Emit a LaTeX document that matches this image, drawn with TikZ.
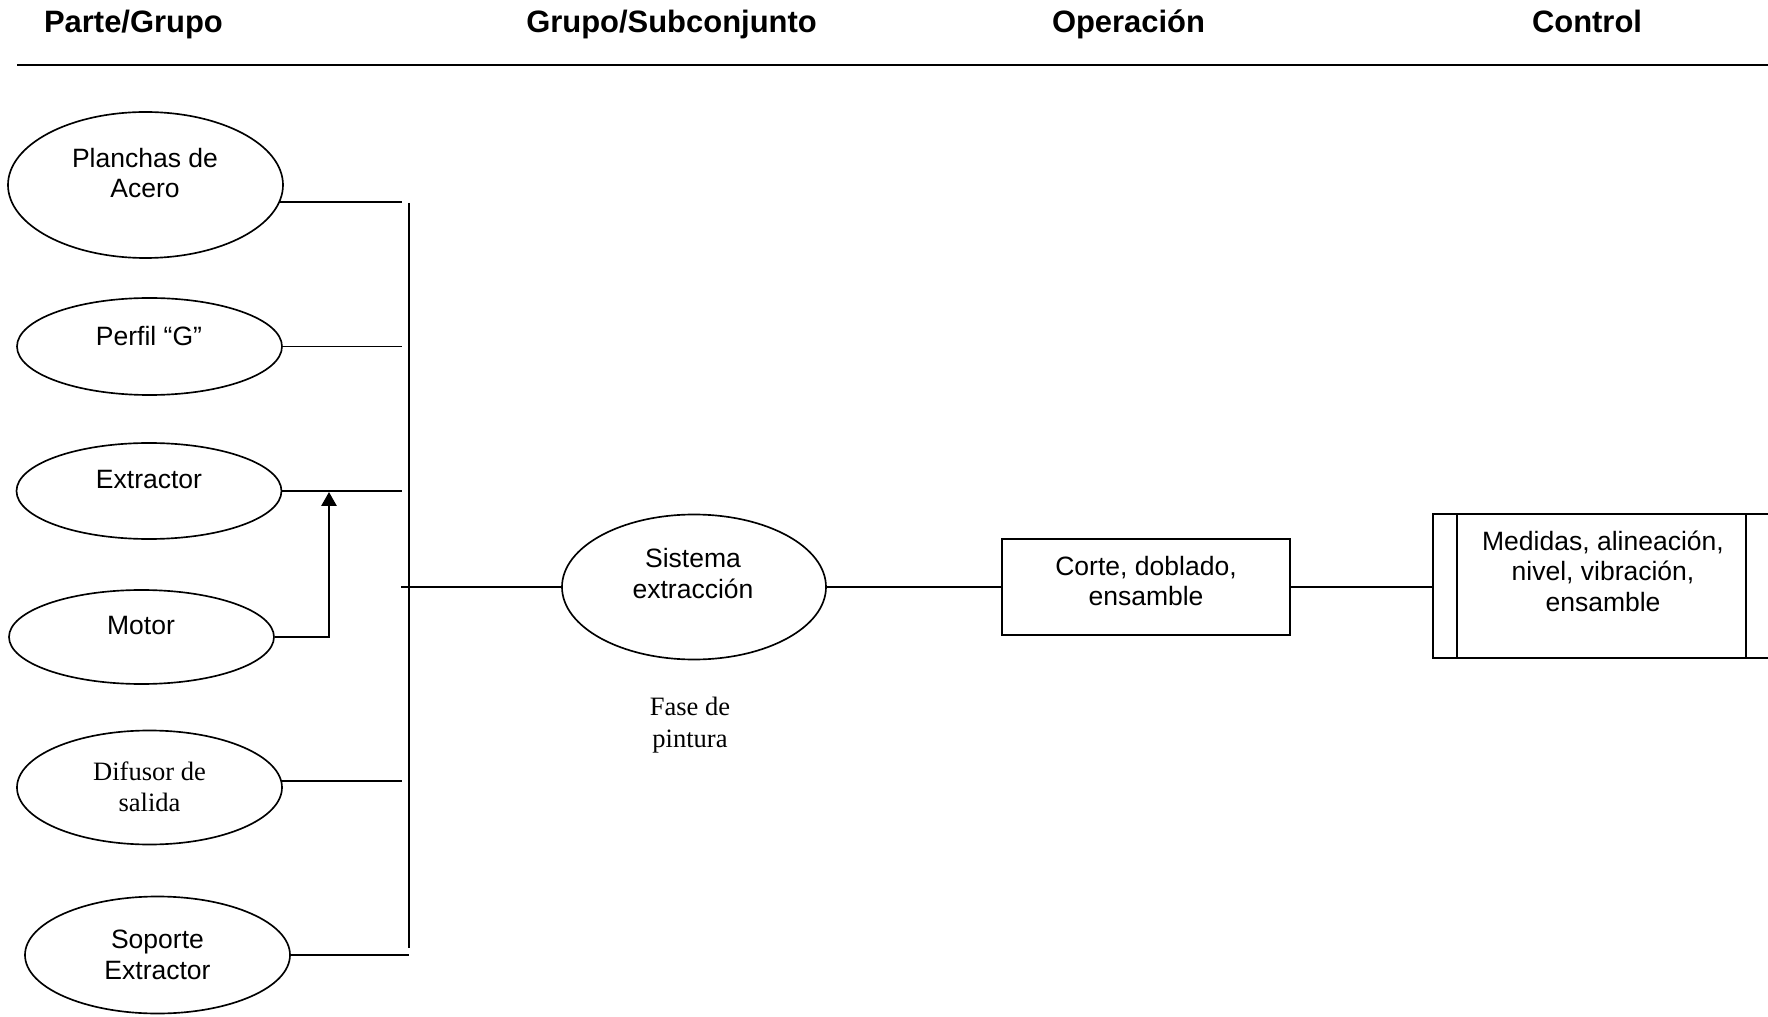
\documentclass[tikz,border=0pt]{standalone}
\usepackage{fontspec}
\setmainfont{Liberation Sans}
\newfontfamily\timesfont{Liberation Serif}
\usetikzlibrary{shapes.geometric,arrows.meta}
% one drawing unit in points
\newcommand\pxu{0.4525pt}
\begin{document}
\begin{tikzpicture}[x=0.4525pt,y=-0.4525pt,
  part/.style={ellipse,draw,line width=0.75pt,inner sep=0pt},
  lbl/.style={align=center,inner sep=0pt,font=\fontsize{12}{13.8}\selectfont},
  serif/.style={align=center,inner sep=0pt,font=\timesfont\fontsize{12}{14.2}\selectfont},
  head/.style={anchor=base,inner sep=0pt,font=\bfseries\fontsize{14}{16}\selectfont},
  wire/.style={line width=0.9pt},
  opbox/.style={rectangle,draw,line width=0.9pt,inner sep=0pt},
]
\useasboundingbox (0,0) rectangle (1768,1017);

% column headings and rule
\node[head] (h1) at (133.5,33) {Parte/Grupo};
\node[head] (h2) at (671.5,33) {Grupo/Subconjunto};
\node[head] (h3) at (1128.5,33) {Operación};
\node[head] (h4) at (1587,33) {Control};
\coordinate (rl) at (17,65);
\coordinate (rr) at (1768,65);
\draw[line width=1.2pt] (rl) -- (rr);

% parts
\node[part,minimum width=275*\pxu,minimum height=146*\pxu] (pa) at (145.5,185) {};
\node[lbl] (pa-t) at (145,173) {Planchas de\\Acero};
\node[part,minimum width=265*\pxu,minimum height=97*\pxu] (pg) at (149.5,346.5) {};
\node[lbl] (pg-t) at (149,336) {Perfil “G”};
\node[part,minimum width=265*\pxu,minimum height=96*\pxu] (ex) at (149,491) {};
\node[lbl] (ex-t) at (149,480) {Extractor};
\node[part,minimum width=265*\pxu,minimum height=94*\pxu] (mo) at (141.5,637) {};
\node[lbl] (mo-t) at (141,626) {Motor};
\node[part,minimum width=265*\pxu,minimum height=114*\pxu] (df) at (149.5,787.5) {};
\node[serif] (df-t) at (149.5,786.5) {Difusor de\\salida};
\node[part,minimum width=265*\pxu,minimum height=117*\pxu] (st) at (157.5,955) {};
\node[lbl] (st-t) at (157.5,955) {Soporte\\Extractor};

% subassembly
\node[part,minimum width=264*\pxu,minimum height=145*\pxu] (se) at (694,587) {};
\node[lbl] (se-t) at (693,573.5) {Sistema\\extracción};
\node[serif] (fp) at (690,725) {Fase de\\pintura};

% operation
\node[opbox,minimum width=288*\pxu,minimum height=96*\pxu] (co) at (1146,587) {};
\node[lbl] (co-t) at (1146,581) {Corte, doblado,\\ensamble};

% control (predefined process box)
\node[opbox,minimum width=337*\pxu,minimum height=144*\pxu] (ct) at (1601.5,586) {};
\draw[wire] ([xshift=25*\pxu]ct.north west) -- ([xshift=25*\pxu]ct.south west);
\draw[wire] ([xshift=-25*\pxu]ct.north east) -- ([xshift=-25*\pxu]ct.south east);
\node[lbl] (ct-t) at (1603,571) {Medidas, alineación,\\nivel, vibración,\\ensamble};

% collecting bus
\coordinate (bt) at (409,203);
\coordinate (bb) at (409,948);
\coordinate (bm) at (401,587);
\coordinate (mj) at (329,492);
\draw[wire] (bt) -- (bb);
\draw[wire,shorten >=7*\pxu] (pa.-7.7) -- (pa.-7.7 -| bt);
\draw[wire,shorten >=7*\pxu] (pg.east) -- (pg.east -| bt);
\draw[wire,shorten >=7*\pxu] (ex.east) -- (ex.east -| bt);
\draw[wire,shorten >=7*\pxu] (df.3.7) -- (df.3.7 -| bt);
\draw[wire] (st.east) -- (st.east -| bt);
\draw[line width=1.1pt,-{Triangle[width=6.8pt,length=6.3pt]}] (mo.east) -| (mj);

% main flow
\draw[wire] (bm) -- (se.west);
\draw[wire] (se.east) -- (co.west);
\draw[wire] (co.east) -- (co.east -| ct.west);
\end{tikzpicture}
\end{document}
